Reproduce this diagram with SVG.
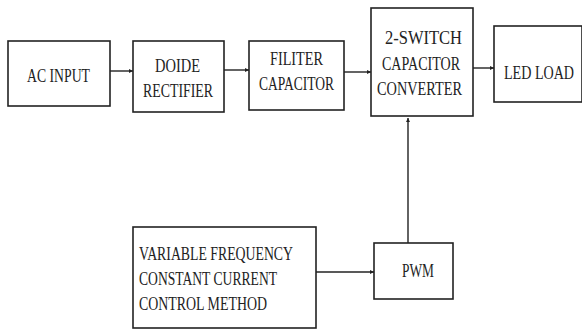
<svg xmlns="http://www.w3.org/2000/svg" width="582" height="331" viewBox="0 0 582 331">
<style>
.box{fill:#fff;stroke:#222;stroke-width:1.6}
.wire{stroke:#222;stroke-width:1.4;fill:none;marker-end:url(#ah)}
</style>
<defs>
<marker id="ah" viewBox="0 0 6 6" refX="6" refY="3" markerWidth="4" markerHeight="4" orient="auto" markerUnits="userSpaceOnUse">
<path d="M0,0 L6,3 L0,6 z" fill="#222"/>
</marker>
</defs>
<rect width="582" height="331" fill="#fff"/>
<g id="connectors">
<line class="wire" x1="110" y1="71" x2="133" y2="71"/>
<line class="wire" x1="224" y1="70" x2="249" y2="70"/>
<line class="wire" x1="344" y1="72" x2="371" y2="72"/>
<line class="wire" x1="473" y1="68" x2="494" y2="68"/>
<line class="wire" x1="316" y1="272" x2="374" y2="272"/>
<line class="wire" x1="408" y1="243" x2="408" y2="118"/>
</g>
<g font-family="'Liberation Serif', 'DejaVu Serif', serif" font-size="18" fill="#222">
<g id="ac-input">
<rect class="box" x="8" y="41" width="102" height="65"/>
<text x="27" y="82" textLength="63" lengthAdjust="spacingAndGlyphs">AC INPUT</text>
</g>
<g id="diode-rectifier">
<rect class="box" x="133" y="41" width="91" height="71"/>
<text x="155" y="72" textLength="45" lengthAdjust="spacingAndGlyphs">DOIDE</text>
<text x="143" y="97" textLength="70" lengthAdjust="spacingAndGlyphs">RECTIFIER</text>
</g>
<g id="filter-capacitor">
<rect class="box" x="249" y="41" width="95" height="69"/>
<text x="270" y="65" textLength="53" lengthAdjust="spacingAndGlyphs">FILITER</text>
<text x="259" y="90" textLength="75" lengthAdjust="spacingAndGlyphs">CAPACITOR</text>
</g>
<g id="converter">
<rect class="box" x="371" y="8" width="102" height="108"/>
<text x="385" y="44" textLength="77" lengthAdjust="spacingAndGlyphs">2-SWITCH</text>
<text x="382" y="70" textLength="78" lengthAdjust="spacingAndGlyphs">CAPACITOR</text>
<text x="377" y="95" textLength="85" lengthAdjust="spacingAndGlyphs">CONVERTER</text>
</g>
<g id="led-load">
<rect class="box" x="494" y="26" width="88" height="76"/>
<text x="504" y="79" textLength="70" lengthAdjust="spacingAndGlyphs">LED LOAD</text>
</g>
<g id="pwm">
<rect class="box" x="374" y="243" width="79" height="56"/>
<text x="402" y="277" textLength="32" lengthAdjust="spacingAndGlyphs">PWM</text>
</g>
<g id="control-method">
<rect class="box" x="133" y="227" width="183" height="101"/>
<text x="139" y="260" textLength="154" lengthAdjust="spacingAndGlyphs">VARIABLE FREQUENCY</text>
<text x="139" y="285" textLength="138" lengthAdjust="spacingAndGlyphs">CONSTANT CURRENT</text>
<text x="139" y="310" textLength="128" lengthAdjust="spacingAndGlyphs">CONTROL METHOD</text>
</g>
</g>
</svg>
